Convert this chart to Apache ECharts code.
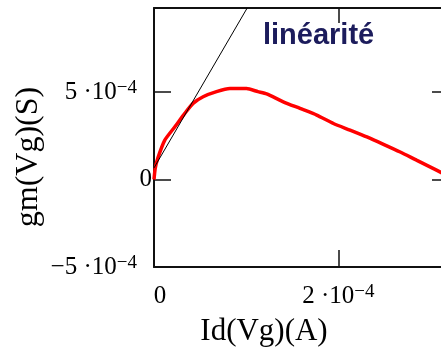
<!DOCTYPE html>
<html>
<head>
<meta charset="utf-8">
<script src="https://cdn.jsdelivr.net/npm/echarts@6/dist/echarts.min.js"></script>
<style>
  html, body { margin: 0; padding: 0; background: #fff; overflow: hidden; }
  #chart { width: 480px; height: 356px; }
</style>
</head>
<body>
<div id="chart"></div>
<script>
// Transconductance gm versus drain current Id
const idValues = [0, 1.3e-6, 4.0e-6, 1.16e-5, 2.25e-5, 3.34e-5, 4.24e-5, 5.33e-5, 6.78e-5,
  8.23e-5, 1.004e-4, 1.127e-4, 1.222e-4, 1.402e-4, 1.584e-4, 1.765e-4, 1.946e-4,
  2.127e-4, 2.309e-4, 2.489e-4, 2.671e-4, 2.852e-4, 3.07e-4, 3.2e-4];
const gmValues = [0, 0.63e-4, 1.2e-4, 2.24e-4, 3.0e-4, 3.78e-4, 4.35e-4, 4.73e-4, 5.02e-4,
  5.2e-4, 5.2e-4, 5.02e-4, 4.89e-4, 4.44e-4, 4.06e-4, 3.68e-4, 3.2e-4,
  2.82e-4, 2.43e-4, 2.01e-4, 1.57e-4, 1.09e-4, 0.52e-4, 0.17e-4];

// Tangent at the origin (linear region)
const tangentId = [0, 1.011e-4];
const tangentGm = [0.66e-4, 9.8e-4];

// Axis ticks and their labels (mantissa · 10^exponent)
const xTicks = [0, 2e-4];
const xTickMantissa = ['0', '2 ·10'];
const xTickExponent = ['', '4'];
const yTicks = [-5e-4, 0, 5e-4];
const yTickMantissa = ['−5 ·10', '0', '5 ·10'];
const yTickExponent = ['4', '', '4'];

const xTitle = 'Id(Vg)(A)';
const yTitle = 'gm(Vg)(S)';
const note = 'linéarité';

const SERIF = '"Liberation Serif", "Times New Roman", serif';

const X_MIN = 0, X_MAX = 3.2e-4, X_STEP = 2e-4;
const Y_MIN = -5e-4, Y_MAX = 9.8e-4, Y_STEP = 5e-4;

function tickLabel(ticks, mant, exps, value, zeroStyle, expStyle) {
  for (let i = 0; i < ticks.length; i++) {
    if (Math.abs(value - ticks[i]) < 1e-9) {
      if (!exps[i]) return '{' + zeroStyle + '|' + mant[i] + '}';
      return '{m|' + mant[i] + '}{em|−}{' + expStyle + '|' + exps[i] + '}';
    }
  }
  return '';
}

const baseRich = {
  m: { fontFamily: SERIF, fontSize: 25, color: '#000', lineHeight: 26,
       padding: [8, 0, 0, 0], verticalAlign: 'bottom' },
  em: { fontFamily: SERIF, fontSize: 19, color: '#000', lineHeight: 13, verticalAlign: 'top' },
  e: { fontFamily: SERIF, fontSize: 19, color: '#000', lineHeight: 19, verticalAlign: 'top' }
};

const chart = echarts.init(document.getElementById('chart'), null, { renderer: 'canvas' });

function frameLine() {
  return { show: true, onZero: false, lineStyle: { color: '#111', width: 2 } };
}
function frameTick(len) {
  return { show: true, inside: true, length: len, lineStyle: { color: '#111', width: 1.5 } };
}
// the mirrored frame edges keep their (tiny, fully transparent) labels so their ticks are laid out
function mirrorLabel() {
  return { show: true, margin: 2, fontSize: 5, color: 'rgba(0,0,0,0)' };
}

chart.setOption({
  animation: false,
  backgroundColor: '#fff',
  // the frame's right edge lies just past the visible window
  grid: { left: 154, top: 8, right: 31, bottom: 89 },
  xAxis: [
    {
      type: 'value', position: 'bottom', min: X_MIN, max: X_MAX, interval: X_STEP,
      axisLine: frameLine(),
      axisTick: frameTick(17),
      splitLine: { show: false },
      axisLabel: {
        margin: 16,
        formatter: v => tickLabel(xTicks, xTickMantissa, xTickExponent, v, 'z', 'e'),
        rich: Object.assign({}, baseRich, {
          z: { fontFamily: SERIF, fontSize: 25, color: '#000', lineHeight: 26,
               padding: [8, 0, 0, 12], verticalAlign: 'bottom' }
        })
      }
    },
    {
      // mirrored frame edge at the top: ticks only
      type: 'value', position: 'top', min: X_MIN, max: X_MAX, interval: X_STEP,
      axisLine: frameLine(),
      axisTick: frameTick(15),
      splitLine: { show: false },
      axisLabel: mirrorLabel()
    }
  ],
  yAxis: [
    {
      type: 'value', position: 'left', min: Y_MIN, max: Y_MAX, interval: Y_STEP,
      axisLine: frameLine(),
      axisTick: frameTick(17),
      splitLine: { show: false },
      axisLabel: {
        margin: 2,
        formatter: v => tickLabel(yTicks, yTickMantissa, yTickExponent, v, 'z', 'ep'),
        rich: Object.assign({}, baseRich, {
          ep: { fontFamily: SERIF, fontSize: 19, color: '#000', lineHeight: 19,
                verticalAlign: 'top', padding: [0, 15, 0, 0] },
          z: { fontFamily: SERIF, fontSize: 25, color: '#000', lineHeight: 26 }
        })
      }
    },
    {
      // mirrored frame edge on the right: ticks only
      type: 'value', position: 'right', min: Y_MIN, max: Y_MAX, interval: Y_STEP,
      axisLine: frameLine(),
      axisTick: frameTick(17),
      splitLine: { show: false },
      axisLabel: mirrorLabel()
    }
  ],
  series: [
    {
      type: 'line', xAxisIndex: 0, yAxisIndex: 0,
      data: idValues.map((x, i) => [x, gmValues[i]]),
      showSymbol: false, smooth: 0.2,
      lineStyle: { color: '#ff0000', width: 3.5 },
      z: 2
    },
    {
      // same ranges as the primary axes, so the mapping is identical
      type: 'line', xAxisIndex: 1, yAxisIndex: 1,
      data: tangentId.map((x, i) => [x, tangentGm[i]]),
      showSymbol: false,
      lineStyle: { color: '#000', width: 1 },
      z: 3
    }
  ],
  graphic: [
    {
      type: 'text', x: 263, y: 36,
      style: { text: note, fontFamily: '"Liberation Sans", Arial, sans-serif', fontWeight: 'bold',
               fontSize: 29, fill: '#1c1c5c', verticalAlign: 'middle', align: 'left' }
    },
    {
      type: 'text', x: 264, y: 332,
      style: { text: xTitle, fontFamily: SERIF, fontSize: 31, fill: '#000',
               verticalAlign: 'middle', align: 'center' }
    },
    {
      type: 'text', x: 29, y: 157, rotation: Math.PI / 2,
      style: { text: yTitle, fontFamily: SERIF, fontSize: 32, fill: '#000',
               verticalAlign: 'middle', align: 'center' }
    }
  ]
});
</script>
</body>
</html>
